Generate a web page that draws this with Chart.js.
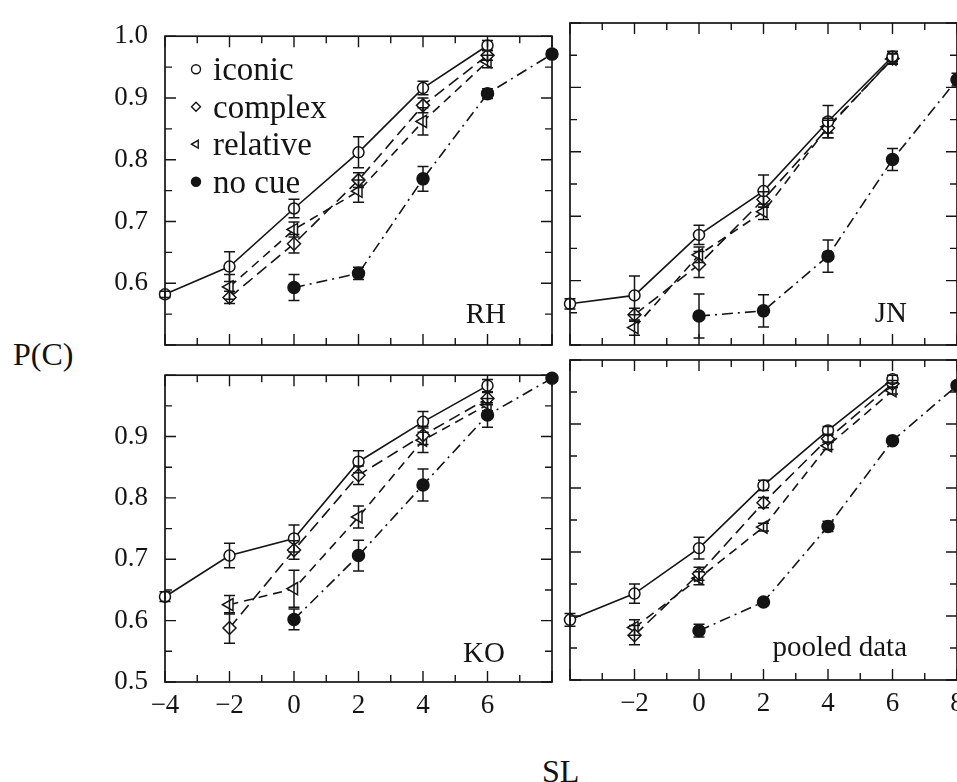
<!DOCTYPE html>
<html>
<head>
<meta charset="utf-8">
<script src="https://cdn.jsdelivr.net/npm/chart.js@4.4.1/dist/chart.umd.min.js"></script>
<style>
  html, body { margin: 0; padding: 0; background: #fff; overflow: hidden; }
  #fig { position: relative; width: 957px; height: 782px; overflow: hidden; }
  #fig canvas { position: absolute; }
  .axis-title { position: absolute; font-family: "Liberation Serif", serif; font-size: 32px; line-height: 32px; color: #111; }
</style>
</head>
<body>
<div id="fig">
  <canvas id="rh"></canvas>
  <canvas id="jn"></canvas>
  <canvas id="ko"></canvas>
  <canvas id="pooled"></canvas>
  <div class="axis-title" style="left:13px; top:338px;">P(C)</div>
  <div class="axis-title" style="left:542px; top:755px;">SL</div>
</div>
<script>
// ---- data (x = SL, y = P(C)) ----
const SL = [-4, -2, 0, 2, 4, 6, 8];
const CUES = ['iconic', 'complex', 'relative', 'no cue'];
const X_TICKS = [-4, -2, 0, 2, 4, 6, 8];
const Y_TICKS = [0.5, 0.6, 0.7, 0.8, 0.9, 1.0];

// RH
const rhIconic   = [0.582, 0.627, 0.721, 0.812, 0.916, 0.985, null];
const rhComplex  = [null, 0.577, 0.664, 0.767, 0.888, 0.969, null];
const rhRelative = [null, 0.594, 0.687, 0.749, 0.862, 0.959, null];
const rhNoCue    = [null, null, 0.593, 0.616, 0.769, 0.907, 0.971];
const rhIconicErr   = [0.005, 0.024, 0.015, 0.025, 0.011, 0.008, null];
const rhComplexErr  = [null, 0.010, 0.015, 0.012, 0.012, 0.008, null];
const rhRelativeErr = [null, 0.020, 0.012, 0.018, 0.022, 0.010, null];
const rhNoCueErr    = [null, null, 0.021, 0.010, 0.020, 0.008, 0.005];

// JN
const jnIconic   = [0.564, 0.577, 0.671, 0.739, 0.847, 0.948, null];
const jnComplex  = [null, 0.547, 0.625, 0.726, 0.837, 0.945, null];
const jnRelative = [null, 0.527, 0.640, 0.707, 0.839, 0.944, null];
const jnNoCue    = [null, null, 0.545, 0.553, 0.638, 0.788, 0.912];
const jnIconicErr   = [0.008, 0.030, 0.015, 0.025, 0.025, 0.008, null];
const jnComplexErr  = [null, 0.010, 0.020, 0.012, 0.015, 0.008, null];
const jnRelativeErr = [null, 0.012, 0.012, 0.012, 0.010, 0.008, null];
const jnNoCueErr    = [null, null, 0.034, 0.025, 0.025, 0.017, 0.010];

// KO
const koIconic   = [0.639, 0.706, 0.734, 0.859, 0.924, 0.983, null];
const koComplex  = [null, 0.588, 0.715, 0.837, 0.902, 0.962, null];
const koRelative = [null, 0.626, 0.652, 0.769, 0.894, 0.952, null];
const koNoCue    = [null, null, 0.602, 0.706, 0.821, 0.935, 0.995];
const koIconicErr   = [0.008, 0.020, 0.022, 0.018, 0.017, 0.010, null];
const koComplexErr  = [null, 0.025, 0.015, 0.015, 0.015, 0.010, null];
const koRelativeErr = [null, 0.015, 0.030, 0.018, 0.020, 0.010, null];
const koNoCueErr    = [null, null, 0.017, 0.025, 0.026, 0.020, 0.005];

// pooled data
const poIconic   = [0.594, 0.635, 0.706, 0.804, 0.890, 0.970, null];
const poComplex  = [null, 0.570, 0.666, 0.777, 0.877, 0.963, null];
const poRelative = [null, 0.582, 0.659, 0.739, 0.866, 0.952, null];
const poNoCue    = [null, null, 0.577, 0.622, 0.740, 0.874, 0.960];
const poIconicErr   = [0.010, 0.015, 0.017, 0.008, 0.006, 0.006, null];
const poComplexErr  = [null, 0.015, 0.010, 0.008, 0.006, 0.005, null];
const poRelativeErr = [null, 0.012, 0.010, 0.006, 0.006, 0.005, null];
const poNoCueErr    = [null, null, 0.010, 0.005, 0.008, 0.004, 0.004];

// ---- styles ----
const INK = '#141414';
const FONT = '"Liberation Serif", "Times New Roman", serif';
const STYLES = [
  { pointStyle: 'circle',   rotation: 0,   radius: 5.5, fill: '#fff', dash: [] },
  { pointStyle: 'rectRot',  rotation: 0,   radius: 6.5, fill: '#fff', dash: [12, 6] },
  { pointStyle: 'triangle', rotation: -90, radius: 7,   fill: '#fff', dash: [9, 6] },
  { pointStyle: 'circle',   rotation: 0,   radius: 6,   fill: INK,    dash: [11, 5, 2, 5] }
];

const PAD_L = 75, PAD_T = 12, PAD_R = 14, PAD_B = 45;

function midpoints(arr) {
  const out = [];
  for (let i = 0; i < arr.length - 1; i++) out.push((arr[i] + arr[i + 1]) / 2);
  return out;
}

// box with inward ticks on all four sides
const framePlugin = {
  id: 'frame',
  afterDraw(chart) {
    const { ctx, chartArea: a, scales: { x, y } } = chart;
    ctx.save();
    ctx.strokeStyle = INK;
    ctx.lineWidth = 1.7;
    ctx.setLineDash([]);
    ctx.strokeRect(a.left, a.top, a.right - a.left, a.bottom - a.top);
    ctx.lineWidth = 1.4;
    ctx.beginPath();
    const xt = [...X_TICKS.map(v => [v, 11]), ...midpoints(X_TICKS).map(v => [v, 7])];
    xt.forEach(([v, len]) => {
      const px = x.getPixelForValue(v);
      ctx.moveTo(px, a.bottom); ctx.lineTo(px, a.bottom - len);
      ctx.moveTo(px, a.top); ctx.lineTo(px, a.top + len);
    });
    const yt = [...Y_TICKS.map(v => [v, 11]), ...midpoints(Y_TICKS).map(v => [v, 7])];
    yt.forEach(([v, len]) => {
      const py = y.getPixelForValue(v);
      ctx.moveTo(a.left, py); ctx.lineTo(a.left + len, py);
      ctx.moveTo(a.right, py); ctx.lineTo(a.right - len, py);
    });
    ctx.stroke();
    ctx.restore();
  }
};

const errorBarPlugin = {
  id: 'errorBars',
  afterDatasetsDraw(chart) {
    const { ctx, scales: { y } } = chart;
    ctx.save();
    ctx.strokeStyle = INK;
    ctx.lineWidth = 1.5;
    ctx.setLineDash([]);
    chart.data.datasets.forEach((ds, di) => {
      const meta = chart.getDatasetMeta(di);
      ds.data.forEach((p, i) => {
        if (p.e == null) return;
        const el = meta.data[i];
        const y1 = y.getPixelForValue(p.y - p.e);
        const y2 = y.getPixelForValue(p.y + p.e);
        ctx.beginPath();
        ctx.moveTo(el.x, y1); ctx.lineTo(el.x, y2);
        ctx.moveTo(el.x - 5.5, y1); ctx.lineTo(el.x + 5.5, y1);
        ctx.moveTo(el.x - 5.5, y2); ctx.lineTo(el.x + 5.5, y2);
        ctx.stroke();
      });
    });
    ctx.restore();
  }
};

const panelTextPlugin = {
  id: 'panelText',
  afterDraw(chart, args, opts) {
    const { ctx, chartArea: a } = chart;
    ctx.save();
    ctx.fillStyle = INK;
    ctx.font = '29px ' + FONT;
    ctx.textAlign = 'right';
    ctx.textBaseline = 'alphabetic';
    ctx.fillText(opts.text, a.right - opts.dx, a.bottom - opts.dy);
    if (opts.legend) {
      ctx.font = '33px ' + FONT;
      ctx.textAlign = 'left';
      CUES.forEach((name, i) => {
        const base = a.top + 44 + i * 37.5;
        const st = STYLES[i];
        ctx.strokeStyle = INK;
        ctx.lineWidth = 1.4;
        ctx.fillStyle = st.fill;
        Chart.helpers.drawPoint(ctx, { pointStyle: st.pointStyle, rotation: st.rotation, radius: 4.5, borderWidth: 1.4 }, a.left + 31, base - 11);
        ctx.fillStyle = INK;
        ctx.fillText(name, a.left + 48, base);
      });
    }
    ctx.restore();
  }
};

function fmtX(v) { return v < 0 ? '\u2212' + Math.abs(v) : String(v); }

function makePanel(cfg) {
  const [l, t, r, b] = cfg.box;
  const cv = document.getElementById(cfg.id);
  cv.width = r - l + PAD_L + PAD_R;
  cv.height = b - t + PAD_T + PAD_B;
  cv.style.left = (l - PAD_L) + 'px';
  cv.style.top = (t - PAD_T) + 'px';

  const datasets = cfg.series.map((vals, si) => {
    const st = STYLES[si];
    return {
      label: CUES[si],
      data: SL.map((x, i) => ({ x: x, y: vals[i], e: cfg.errors[si][i] })).filter(p => p.y !== null),
      borderColor: INK,
      borderWidth: 1.6,
      borderDash: st.dash,
      pointStyle: st.pointStyle,
      pointRotation: st.rotation,
      pointRadius: st.radius,
      pointBorderWidth: 1.5,
      pointBorderColor: INK,
      pointBackgroundColor: st.fill,
      clip: false,
      tension: 0
    };
  });

  new Chart(cv, {
    type: 'line',
    data: { datasets },
    options: {
      responsive: false,
      animation: false,
      events: [],
      layout: { padding: { left: 0, top: PAD_T, right: PAD_R, bottom: 0 } },
      plugins: {
        legend: { display: false },
        tooltip: { enabled: false },
        panelText: { text: cfg.name, dx: cfg.dx, dy: cfg.dy, legend: !!cfg.legend }
      },
      scales: {
        x: {
          type: 'linear', min: -4, max: 8,
          grid: { display: false }, border: { display: false },
          afterBuildTicks: s => { s.ticks = X_TICKS.map(v => ({ value: v })); },
          ticks: {
            display: cfg.xLabels, padding: 0, color: INK,
            font: { family: FONT, size: 27 }, maxRotation: 0, autoSkip: false,
            callback: v => cfg.xHide.includes(v) ? '' : fmtX(v)
          },
          afterFit: s => { s.height = PAD_B; }
        },
        y: {
          type: 'linear', min: 0.5, max: 1.0,
          grid: { display: false }, border: { display: false },
          afterBuildTicks: s => { s.ticks = Y_TICKS.map(v => ({ value: v })); },
          ticks: {
            display: cfg.yLabels, padding: 9, color: INK,
            font: { family: FONT, size: 27 }, autoSkip: false,
            callback: v => cfg.yHide.some(h => Math.abs(h - v) < 1e-6) ? '' : v.toFixed(1)
          },
          afterFit: s => { s.width = PAD_L; }
        }
      }
    },
    plugins: [errorBarPlugin, framePlugin, panelTextPlugin]
  });
}

makePanel({ id: 'rh', name: 'RH', box: [165, 23, 552, 345], dx: 46, dy: 22, legend: true,
  xLabels: false, yLabels: true, xHide: [], yHide: [0.5],
  series: [rhIconic, rhComplex, rhRelative, rhNoCue],
  errors: [rhIconicErr, rhComplexErr, rhRelativeErr, rhNoCueErr] });

makePanel({ id: 'jn', name: 'JN', box: [570, 23, 957, 345], dx: 50, dy: 23,
  xLabels: false, yLabels: false, xHide: [], yHide: [],
  series: [jnIconic, jnComplex, jnRelative, jnNoCue],
  errors: [jnIconicErr, jnComplexErr, jnRelativeErr, jnNoCueErr] });

makePanel({ id: 'ko', name: 'KO', box: [165, 362, 552, 682], dx: 47, dy: 20,
  xLabels: true, yLabels: true, xHide: [8], yHide: [1.0],
  series: [koIconic, koComplex, koRelative, koNoCue],
  errors: [koIconicErr, koComplexErr, koRelativeErr, koNoCueErr] });

makePanel({ id: 'pooled', name: 'pooled data', box: [570, 360, 957, 680], dx: 50, dy: 24,
  xLabels: true, yLabels: false, xHide: [-4], yHide: [],
  series: [poIconic, poComplex, poRelative, poNoCue],
  errors: [poIconicErr, poComplexErr, poRelativeErr, poNoCueErr] });
</script>
</body>
</html>
